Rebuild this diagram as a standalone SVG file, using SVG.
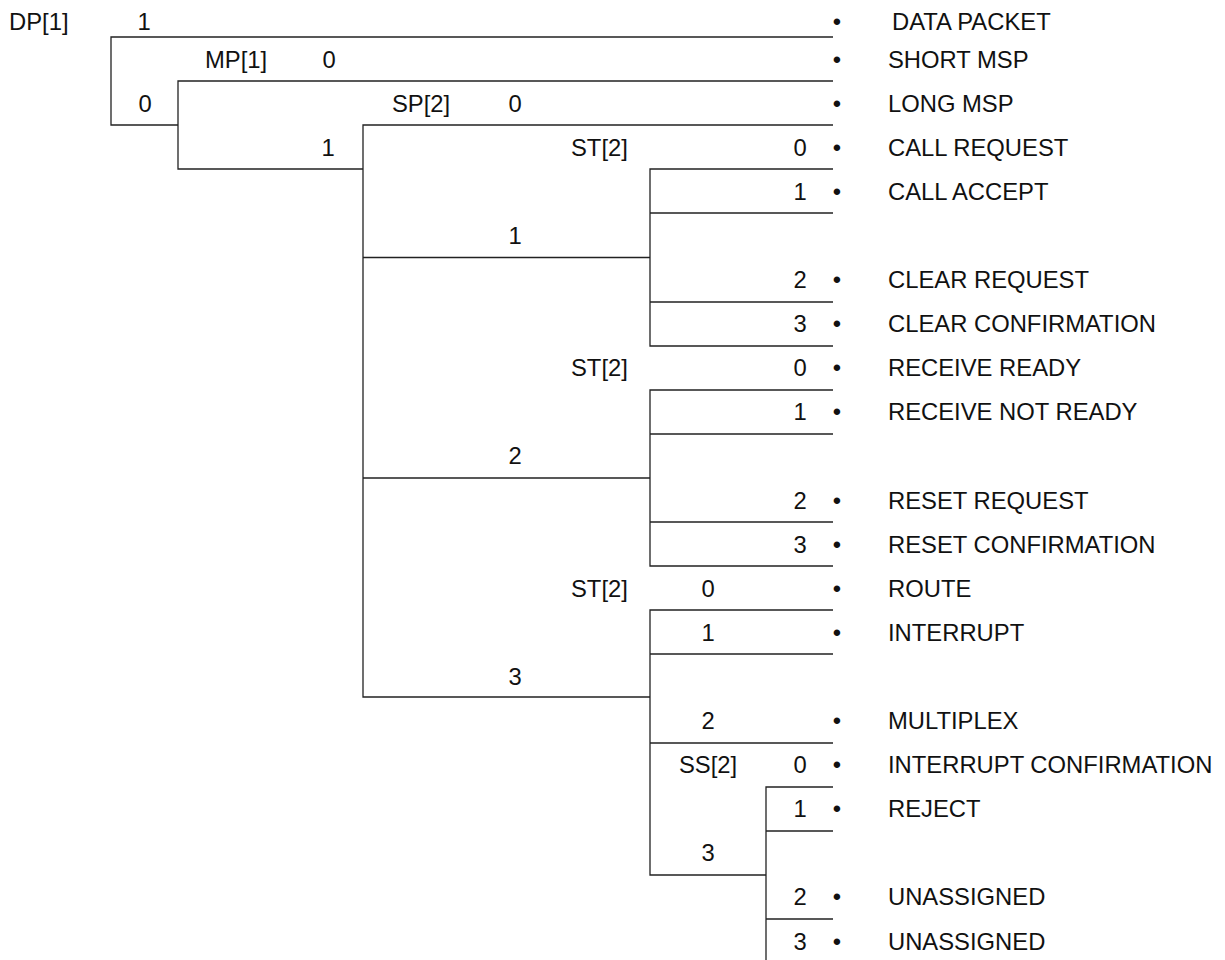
<svg xmlns="http://www.w3.org/2000/svg" width="1225" height="960" viewBox="0 0 1225 960">
<style>
text{font-family:"Liberation Sans",Arial,sans-serif;font-size:23.8px;fill:#111}
.m{text-anchor:middle}
.ln{stroke:#222;stroke-width:1.3;fill:none}
</style>
<rect width="1225" height="960" fill="#fff"/>
<g id="connectors" class="ln">
<path d="M833,37H111V125H178"/>
<path d="M833,81H178V169H363"/>
<path d="M833,125H363V697H650"/>
<path d="M363,257.5H650M363,478H650"/>
<path d="M833,169H650V346H833M650,213H833M650,302H833"/>
<path d="M833,390H650V566H833M650,434H833M650,522H833"/>
<path d="M833,610H650V875H766M650,654H833M650,743H833"/>
<path d="M833,787H766V960M766,831H833M766,919H833"/>
</g>
<g id="n-dp"><text x="9" y="29.5">DP[1]</text><text class="m" x="144" y="29.5">1</text><text class="m" x="145" y="111.6">0</text></g>
<g id="n-mp"><text x="205" y="67.5">MP[1]</text><text class="m" x="329" y="67.5">0</text><text class="m" x="328" y="155.7">1</text></g>
<g id="n-sp"><text x="392" y="111.6">SP[2]</text><text class="m" x="515" y="111.6">0</text>
<text class="m" x="515" y="243.9">1</text><text class="m" x="515" y="464.4">2</text><text class="m" x="515" y="684.9">3</text></g>
<g id="n-st1"><text x="571" y="155.7">ST[2]</text><text class="m" x="800" y="155.7">0</text><text class="m" x="800" y="199.8">1</text><text class="m" x="800" y="288">2</text><text class="m" x="800" y="332.1">3</text></g>
<g id="n-st2"><text x="571" y="376.2">ST[2]</text><text class="m" x="800" y="376.2">0</text><text class="m" x="800" y="420.3">1</text><text class="m" x="800" y="508.5">2</text><text class="m" x="800" y="552.6">3</text></g>
<g id="n-st3"><text x="571" y="596.7">ST[2]</text><text class="m" x="708" y="596.7">0</text><text class="m" x="708" y="640.8">1</text><text class="m" x="708" y="729">2</text><text class="m" x="708" y="861.3">3</text></g>
<g id="n-ss"><text class="m" x="708" y="773.1">SS[2]</text><text class="m" x="800" y="773.1">0</text><text class="m" x="800" y="817.2">1</text><text class="m" x="800" y="905.4">2</text><text class="m" x="800" y="949.5">3</text></g>
<g id="n-leaves">
<text class="m" x="837" y="29.5">•</text><text x="892" y="29.5">DATA PACKET</text>
<text class="m" x="837" y="67.5">•</text><text x="888" y="67.5">SHORT MSP</text>
<text class="m" x="837" y="111.6">•</text><text x="888" y="111.6">LONG MSP</text>
<text class="m" x="837" y="155.7">•</text><text x="888" y="155.7">CALL REQUEST</text>
<text class="m" x="837" y="199.8">•</text><text x="888" y="199.8">CALL ACCEPT</text>
<text class="m" x="837" y="288">•</text><text x="888" y="288">CLEAR REQUEST</text>
<text class="m" x="837" y="332.1">•</text><text x="888" y="332.1">CLEAR CONFIRMATION</text>
<text class="m" x="837" y="376.2">•</text><text x="888" y="376.2">RECEIVE READY</text>
<text class="m" x="837" y="420.3">•</text><text x="888" y="420.3">RECEIVE NOT READY</text>
<text class="m" x="837" y="508.5">•</text><text x="888" y="508.5">RESET REQUEST</text>
<text class="m" x="837" y="552.6">•</text><text x="888" y="552.6">RESET CONFIRMATION</text>
<text class="m" x="837" y="596.7">•</text><text x="888" y="596.7">ROUTE</text>
<text class="m" x="837" y="640.8">•</text><text x="888" y="640.8">INTERRUPT</text>
<text class="m" x="837" y="729">•</text><text x="888" y="729">MULTIPLEX</text>
<text class="m" x="837" y="773.1">•</text><text x="888" y="773.1">INTERRUPT CONFIRMATION</text>
<text class="m" x="837" y="817.2">•</text><text x="888" y="817.2">REJECT</text>
<text class="m" x="837" y="905.4">•</text><text x="888" y="905.4">UNASSIGNED</text>
<text class="m" x="837" y="949.5">•</text><text x="888" y="949.5">UNASSIGNED</text>
</g>
</svg>
